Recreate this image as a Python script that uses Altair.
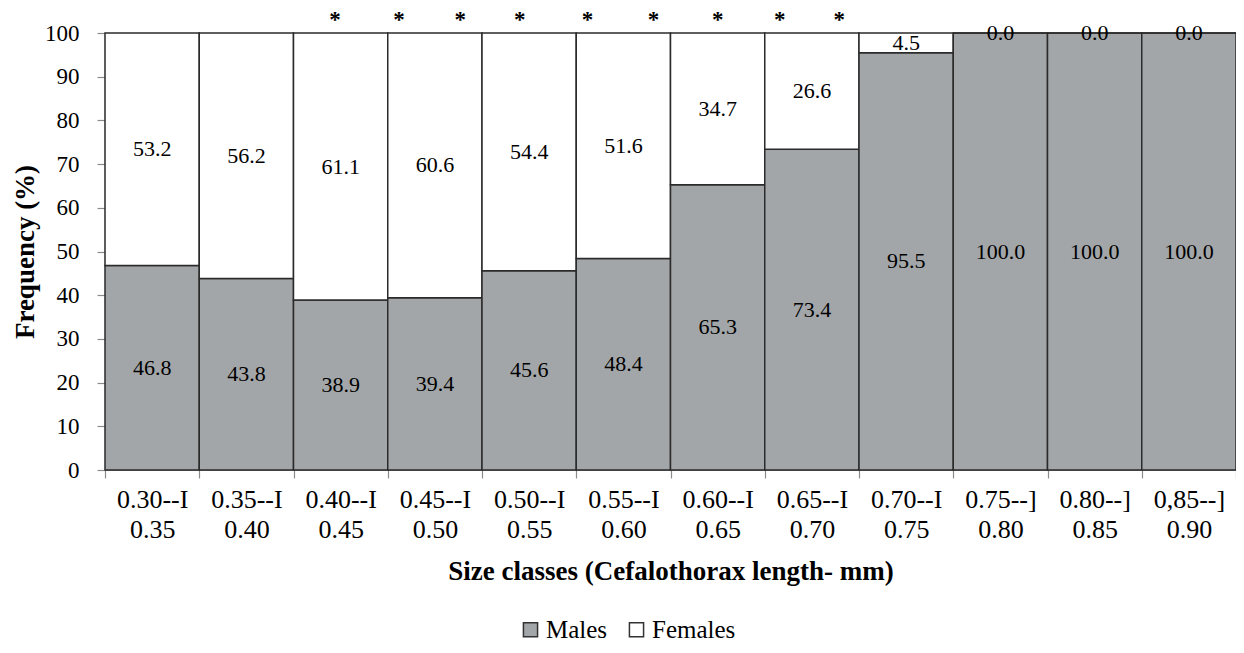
import json
import altair as alt
import pandas as pd

# ---- data ----
class_line1 = ["0.30--I", "0.35--I", "0.40--I", "0.45--I", "0.50--I", "0.55--I",
               "0.60--I", "0.65--I", "0.70--I", "0.75--]", "0.80--]", "0,85--]"]
class_line2 = ["0.35", "0.40", "0.45", "0.50", "0.55", "0.60",
               "0.65", "0.70", "0.75", "0.80", "0.85", "0.90"]
males = [46.8, 43.8, 38.9, 39.4, 45.6, 48.4, 65.3, 73.4, 95.5, 100.0, 100.0, 100.0]
females = [53.2, 56.2, 61.1, 60.6, 54.4, 51.6, 34.7, 26.6, 4.5, 0.0, 0.0, 0.0]
# asterisk annotations (positions along the class axis, in class units)
star_pos = [2.44, 3.12, 3.77, 4.40, 5.12, 5.82, 6.50, 7.16, 7.79]

rows = []
for i in range(len(males)):
    m, f = males[i], females[i]
    rows.append(dict(i=i, x0=i, x1=i + 1, xm=i + 0.5, sex="Males",
                     y0=0, y1=m, ym=m / 2, value=m))
    rows.append(dict(i=i, x0=i, x1=i + 1, xm=i + 0.5, sex="Females",
                     y0=m, y1=m + f, ym=m + f / 2, value=f))
df = pd.DataFrame(rows)
stars = pd.DataFrame({"pos": star_pos})

SERIF = "Liberation Serif"
GRAY = "#a3a6a8"
W, H = 1131, 437
n = len(males)

label_arr = json.dumps([[a, b] for a, b in zip(class_line1, class_line2)])
label_expr = f"datum.value < {n} ? {label_arr}[datum.value] : ''"

xscale = alt.Scale(domain=[0, n], nice=False, zero=False)
yscale = alt.Scale(domain=[0, 100], nice=False)

base = alt.Chart(df)

bars = base.mark_rect(stroke="#2b2b2b", strokeWidth=1.5).encode(
    x=alt.X("x0:Q", scale=xscale,
            axis=alt.Axis(values=list(range(n + 1)), labelExpr=label_expr,
                          labelOffset=W / n / 2, labelPadding=8,
                          labelFlush=False, labelOverlap=False,
                          labelFontSize=26, labelLineHeight=30,
                          labelBaseline="top",
                          title="Size classes (Cefalothorax length- mm)",
                          titlePadding=16)),
    x2="x1:Q",
    y=alt.Y("y0:Q", scale=yscale,
            axis=alt.Axis(values=list(range(0, 101, 10)), labelPadding=18,
                          labelFontSize=23, title="Frequency (%)",
                          titlePadding=5)),
    y2="y1:Q",
    color=alt.Color("sex:N",
                    scale=alt.Scale(domain=["Males", "Females"], range=[GRAY, "white"]),
                    legend=alt.Legend(title=None, orient="none", direction="horizontal",
                                      legendX=413, legendY=584,
                                      symbolType="square", symbolSize=200,
                                      symbolStrokeColor="#333333", symbolStrokeWidth=1.5,
                                      labelFont=SERIF, labelFontSize=25,
                                      labelColor="black", labelOffset=3,
                                      columnPadding=16)),
)

texts = base.mark_text(font=SERIF, fontSize=22, color="black", baseline="middle").encode(
    x=alt.X("xm:Q", scale=xscale),
    y=alt.Y("ym:Q", scale=yscale),
    text=alt.Text("value:Q", format=".1f"),
)

star_marks = alt.Chart(stars).mark_text(
    text="*", font=SERIF, fontSize=23, fontWeight="bold", color="black", dy=-13
).encode(
    x=alt.X("pos:Q", scale=xscale),
    y=alt.datum(100, scale=yscale),
)

chart = alt.layer(bars, texts, star_marks).properties(
    width=W, height=H,
    autosize=alt.AutoSizeParams(type="none"),
    padding={"left": 97, "top": 25, "right": 0, "bottom": 174},
    background="white",
).configure_view(stroke=None).configure_axis(
    grid=False,
    domainColor="#8c8c8c", domainWidth=1.2,
    tickColor="#8c8c8c", tickWidth=1.2, tickSize=8,
    labelFont=SERIF, labelColor="black",
    titleFont=SERIF, titleFontWeight="bold", titleFontSize=27, titleColor="black",
)

chart.save("out.html", embed_options={"renderer": "svg", "actions": False})
